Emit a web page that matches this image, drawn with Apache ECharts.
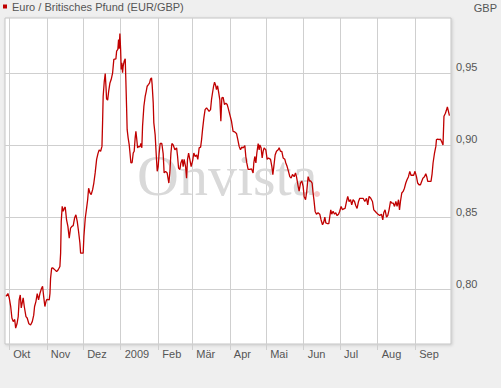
<!DOCTYPE html>
<html>
<head>
<meta charset="utf-8">
<script src="https://cdn.jsdelivr.net/npm/echarts@6/dist/echarts.min.js"></script>
<style>
html,body{margin:0;padding:0;background:#efefef;}
#c{width:501px;height:388px;}
</style>
</head>
<body>
<div id="c"></div>
<script>
// days since 2008-10-01
const monthStarts = [0, 31, 61, 92, 123, 151, 182, 212, 243, 273, 304, 335];
const monthLabels = ['Okt', 'Nov', 'Dez', '2009', 'Feb', 'Mär', 'Apr', 'Mai', 'Jun', 'Jul', 'Aug', 'Sep'];
const yTicks = [0.80, 0.85, 0.90, 0.95];
const seriesName = 'Euro / Britisches Pfund (EUR/GBP)';

const days = [
-2.7,-1.1,0,1.2,2.2,3.3,4.5,5.3,6.4,7.4,8.2,9.1,9.9,10.7,11.5,12.4,13.8,14.8,16.2,17.6,
19.0,20.2,20.9,22.0,23.1,24.2,25.3,26.7,27.5,28.4,29.4,30.3,31.1,33.0,33.6,34.1,35.0,35.8,37.1,39.1,
40.4,41.8,42.4,42.9,43.7,44.5,45.4,46.2,47.3,48.4,49.5,50.6,51.7,52.8,53.9,55.0,56.1,57.2,58.3,58.9,
60.0,61.0,61.6,62.7,63.8,64.7,65.5,66.6,67.6,68.8,69.8,70.9,72.1,73.2,74.2,75.4,76.5,77.0,77.5,78.4,
79.2,79.8,80.3,81.2,82.0,83.1,84.1,85.3,86.3,88.0,88.6,89.6,90.2,90.7,91.3,91.9,92.4,92.9,93.5,94.0,
94.8,95.7,96.2,96.8,97.3,98.1,99.0,99.5,100.4,101.4,102.3,103.1,103.9,104.5,105.1,105.9,106.7,107.8,108.6,109.4,
110.0,111.1,112.2,113.0,113.8,115.0,115.8,116.6,117.4,117.9,118.8,119.3,120.4,121.2,122.1,122.9,123.7,124.5,125.9,127.0,
127.8,129.0,130.3,131.7,132.5,133.4,134.2,135.3,136.7,138.1,138.9,139.7,140.8,141.6,142.7,143.5,144.3,145.5,146.3,147.1,
148.0,149.0,150.1,151.3,152.3,153.4,154.6,155.6,156.7,157.9,158.7,159.5,160.6,161.6,162.8,163.9,164.9,166.1,166.9,167.7,
168.6,169.4,170.2,171.0,171.9,172.7,173.8,174.6,175.4,176.5,177.6,178.7,179.8,180.6,182.0,183.4,184.2,184.7,186.1,187.5,
188.6,189.7,190.8,191.9,193.0,194.4,195.2,196.0,197.1,198.5,199.9,201.2,201.8,202.6,203.5,204.3,205.4,206.2,206.8,207.8,
208.7,209.5,210.3,211.7,212.8,213.9,215.6,216.7,217.5,218.3,219.4,220.5,221.9,222.7,223.8,224.9,226.0,227.4,228.2,229.3,
230.4,231.5,232.6,233.7,235.1,236.2,237.0,238.4,239.2,240.3,241.4,242.5,243.3,244.5,245.5,246.6,247.8,248.8,249.9,250.7,
251.5,252.4,253.5,254.8,256.2,257.3,258.5,259.5,260.4,261.2,262.3,263.7,264.5,265.3,266.1,267.2,268.4,269.4,270.5,271.7,
272.7,273.8,275.0,276.0,277.1,278.3,279.3,280.4,281.6,282.6,283.7,284.9,285.9,287.0,288.2,289.2,290.6,292.0,293.4,294.8,
295.8,296.9,298.3,299.7,300.8,301.9,303.0,304.3,305.7,307.1,308.2,309.0,310.1,311.3,312.3,313.4,314.6,315.7,316.8,317.9,
319.0,320.0,321.2,322.0,322.8,323.9,325.0,326.1,327.2,328.2,329.4,330.5,331.5,332.7,333.7,334.8,336.0,337.0,338.1,339.3,
340.3,341.4,342.6,343.7,344.5,345.3,347.0,348.0,348.9,349.7,350.9,352.0,352.5,353.6,354.7,355.8,356.9,357.9,358.7,359.9,
360.7,361.5,362.4,363.2
];

const rates = [
0.795,0.797,0.794,0.788,0.780,0.7775,0.779,0.773,0.776,0.781,0.7926,0.796,0.787,0.7905,0.794,0.788,0.781,0.780,0.776,0.7752,
0.7775,0.782,0.788,0.7914,0.797,0.7926,0.797,0.8007,0.802,0.795,0.788,0.7914,0.793,0.7926,0.797,0.8076,0.8146,0.8148,0.8139,0.8122,
0.8135,0.8157,0.825,0.847,0.8574,0.854,0.856,0.857,0.848,0.8435,0.8354,0.8424,0.8436,0.844,0.8493,0.8516,0.847,0.840,0.832,0.825,
0.825,0.825,0.8365,0.849,0.856,0.862,0.870,0.8667,0.8656,0.869,0.8736,0.8806,0.890,0.894,0.8966,0.8956,0.899,0.915,0.9338,0.944,
0.9495,0.9407,0.932,0.931,0.937,0.943,0.9453,0.950,0.9593,0.9597,0.965,0.9662,0.9731,0.9667,0.9773,0.9662,0.9523,0.957,0.950,0.9546,
0.958,0.9597,0.9453,0.9268,0.9106,0.9049,0.900,0.8956,0.8875,0.8878,0.8944,0.8956,0.9049,0.9094,0.905,0.898,0.899,0.8987,0.901,0.898,
0.913,0.9268,0.9338,0.937,0.9407,0.942,0.943,0.9458,0.9465,0.942,0.9292,0.9153,0.907,0.8944,0.8817,0.885,0.8944,0.901,0.901,0.894,
0.8806,0.8817,0.8806,0.8736,0.8806,0.8944,0.901,0.900,0.8966,0.898,0.892,0.884,0.883,0.8875,0.890,0.885,0.890,0.885,0.877,0.890,
0.8944,0.890,0.885,0.889,0.8944,0.892,0.893,0.890,0.898,0.8985,0.9037,0.9106,0.9188,0.9245,0.9257,0.9245,0.9233,0.9245,0.9315,0.936,
0.9407,0.9435,0.9416,0.9384,0.941,0.937,0.931,0.9164,0.9326,0.933,0.928,0.929,0.928,0.9257,0.921,0.9164,0.912,0.9094,0.909,0.908,
0.9037,0.899,0.8967,0.8985,0.898,0.8995,0.892,0.8875,0.883,0.883,0.8834,0.8806,0.8875,0.892,0.8875,0.8944,0.901,0.8966,0.900,0.898,
0.891,0.8956,0.898,0.8966,0.890,0.891,0.890,0.885,0.8794,0.885,0.893,0.8956,0.8966,0.898,0.8956,0.8956,0.891,0.890,0.8875,0.885,
0.8817,0.878,0.877,0.8795,0.878,0.8806,0.878,0.8713,0.868,0.8736,0.875,0.8713,0.8643,0.862,0.868,0.878,0.875,0.875,0.8736,0.8667,
0.8612,0.8539,0.852,0.853,0.852,0.848,0.8447,0.8465,0.850,0.846,0.8455,0.8455,0.8504,0.855,0.852,0.854,0.852,0.853,0.851,0.852,
0.854,0.8574,0.855,0.8557,0.856,0.8608,0.8643,0.8608,0.862,0.8585,0.862,0.8608,0.858,0.856,0.8608,0.863,0.863,0.863,0.8608,0.863,
0.8585,0.8643,0.863,0.8608,0.855,0.854,0.853,0.852,0.851,0.852,0.848,0.853,0.855,0.850,0.851,0.855,0.8608,0.8597,0.8597,0.8574,
0.8608,0.8574,0.862,0.855,0.8608,0.8667,0.8678,0.870,0.8736,0.8759,0.878,0.8817,0.879,0.879,0.879,0.8817,0.878,0.8736,0.8724,0.8724,
0.8747,0.877,0.878,0.880,0.878,0.8747,0.8747,0.8747,0.880,0.8875,0.8944,0.899,0.9037,0.904,0.9037,0.904,0.902,0.900,0.9199,0.922,
0.924,0.9264,0.9233,0.9203
];

const chart = echarts.init(document.getElementById('c'), null, {renderer: 'svg'});
const FONT = 'Liberation Sans, Arial, sans-serif';
const GRID = '#cfcfcf';

chart.setOption({
  animation: false,
  backgroundColor: '#efefef',
  textStyle: {fontFamily: FONT},
  legend: {
    left: 3, top: 1, padding: 0,
    icon: 'rect', itemWidth: 4, itemHeight: 4, itemGap: 5,
    selectedMode: false,
    textStyle: {color: '#555', fontSize: 11, fontFamily: FONT},
    data: [{name: seriesName, itemStyle: {color: '#c00000'}}]
  },
  graphic: [
    {type: 'text', right: 4, top: 2, style: {text: 'GBP', fill: '#555', font: '11px ' + FONT}},
    {type: 'text', left: 137, top: 146, z: 1, silent: true,
     style: {text: 'Onvista', fill: '#d9d9d9', font: '58px "Liberation Serif", serif'}},
    {type: 'circle', shape: {cx: 317, cy: 194, r: 3}, z: 1, silent: true, style: {fill: '#f5caca'}}
  ],
  grid: {
    left: 5, right: 50, top: 18, bottom: 44,
    show: true, backgroundColor: '#ffffff', borderColor: '#c4c4c4', borderWidth: 1,
    shadowColor: 'rgba(0,0,0,0.15)', shadowBlur: 3, shadowOffsetX: 1, shadowOffsetY: 1
  },
  xAxis: {
    type: 'value', min: -3.5, max: 364.5,
    axisLine: {show: false},
    axisTick: {show: true, length: 6, customValues: monthStarts, lineStyle: {color: GRID}},
    splitLine: {show: true, lineStyle: {color: GRID, width: 1}},
    axisLabel: {
      customValues: monthStarts, align: 'left', margin: 4, padding: [0, 0, 0, 4],
      color: '#555', fontSize: 11, fontFamily: FONT, hideOverlap: false,
      formatter: v => monthLabels[monthStarts.indexOf(Math.round(v))] || ''
    }
  },
  yAxis: {
    type: 'value', position: 'right', min: 0.762, max: 0.988,
    axisLine: {show: false},
    axisTick: {show: true, length: 4, customValues: yTicks, lineStyle: {color: GRID}},
    splitLine: {show: true, lineStyle: {color: GRID, width: 1}},
    axisLabel: {
      customValues: yTicks, margin: 5, verticalAlign: 'bottom',
      color: '#555', fontSize: 11, fontFamily: FONT,
      formatter: v => v.toFixed(2).replace('.', ',')
    }
  },
  series: [{
    name: seriesName, type: 'line', showSymbol: false, symbol: 'none',
    lineStyle: {color: '#c00000', width: 1.3}, itemStyle: {color: '#c00000'},
    data: days.map((d, i) => [d, rates[i]]),
    z: 3
  }]
});
</script>
</body>
</html>
